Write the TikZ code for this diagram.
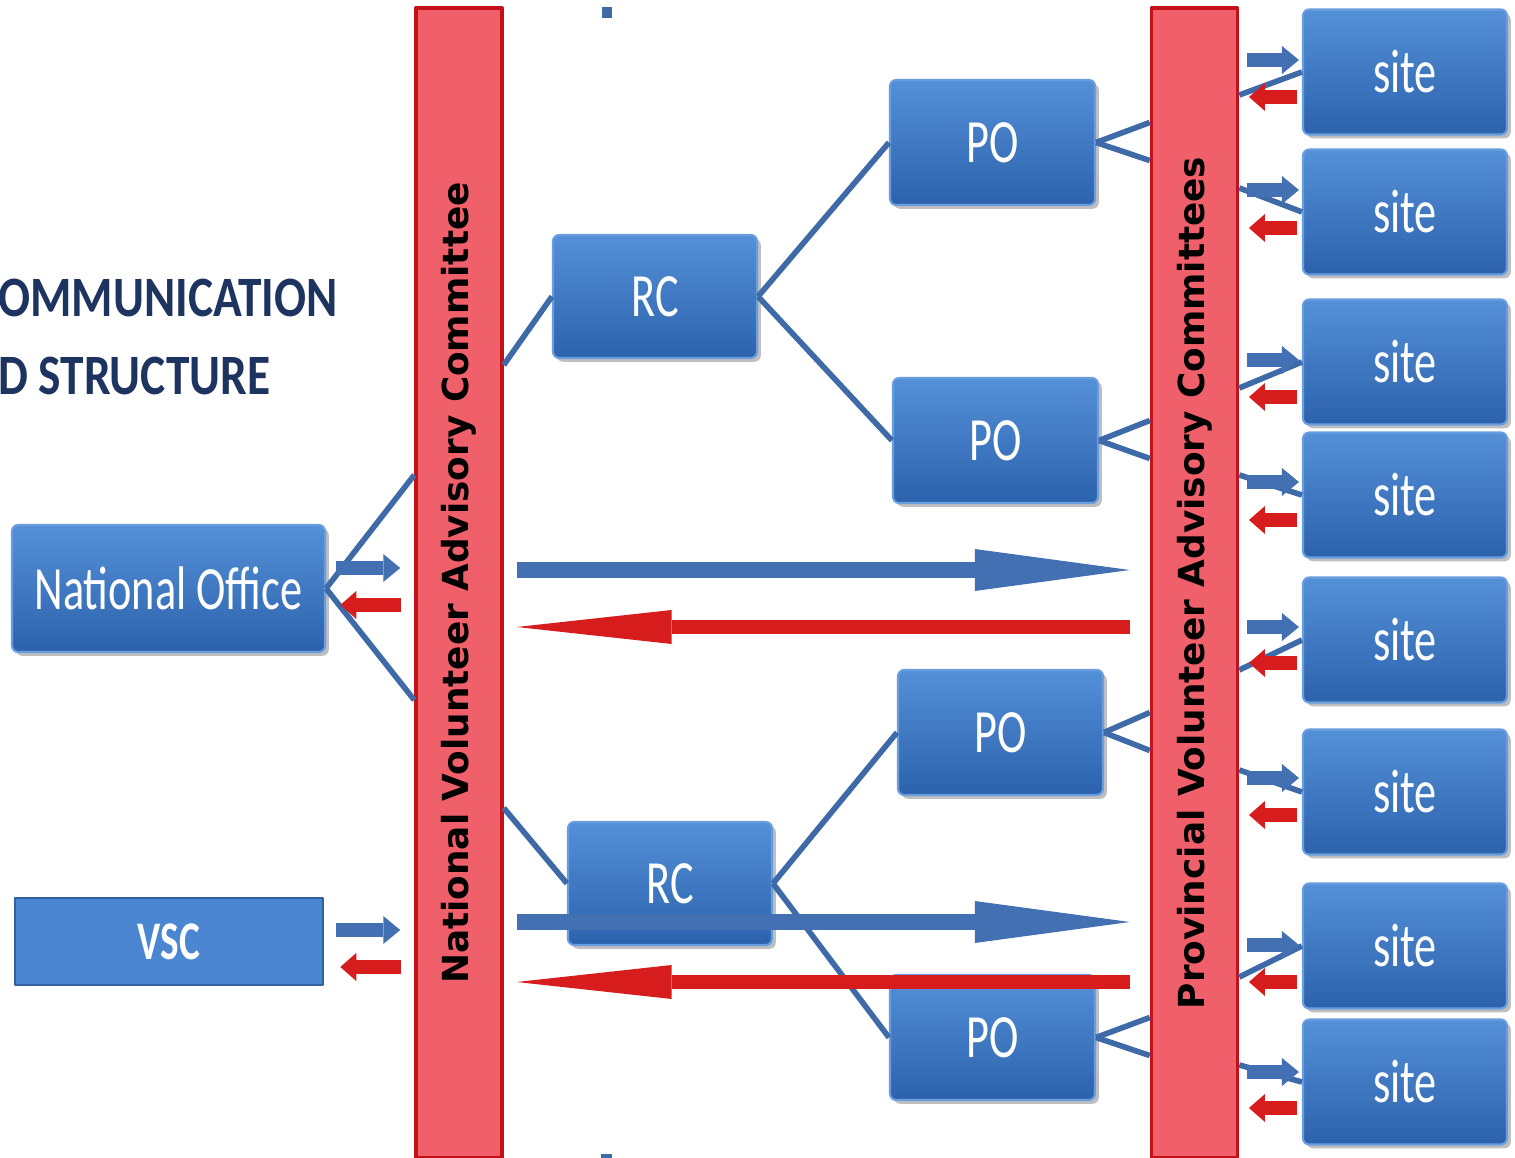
\documentclass[tikz,border=0pt]{standalone}
\usepackage{fontspec}
\usepackage{tikz}
\usetikzlibrary{arrows.meta,shadows,calc}
\newfontfamily\boxfont[FakeStretch=0.72]{Carlito}
\newfontfamily\titlefont[FakeStretch=0.83]{Carlito}
\newfontfamily\barfont{DejaVu Sans}
\definecolor{unittop}{RGB}{84,144,216}
\definecolor{unitbot}{RGB}{44,98,172}
\definecolor{unitedge}{RGB}{104,158,224}
\definecolor{vscblue}{RGB}{74,134,210}
\definecolor{vscedge}{RGB}{50,96,160}
\definecolor{linkblue}{RGB}{62,106,168}
\definecolor{barred}{RGB}{240,96,106}
\definecolor{barline}{RGB}{196,16,24}
\definecolor{arrowblue}{RGB}{66,112,178}
\definecolor{arrowred}{RGB}{214,28,28}
\definecolor{titlenavy}{RGB}{30,52,96}

\begin{document}
\begin{tikzpicture}[x=0.02cm,y=-0.02cm,line join=round]
  \tikzstyle{unit}=[draw=unitedge,line width=1.2pt,rounded corners=3.5pt,top color=unittop,bottom color=unitbot,drop shadow,text=white,font=\boxfont\fontsize{35}{40}\selectfont,inner sep=0pt,minimum width=4.1cm,minimum height=2.5cm]
  \tikzstyle{flat}=[draw=vscedge,line width=1pt,fill=vscblue,text=white,font=\boxfont\bfseries\fontsize{31}{36}\selectfont,inner sep=0pt,minimum width=6.16cm,minimum height=1.74cm]
  \tikzstyle{bar}=[draw=barline,line width=2pt,fill=barred,inner sep=0pt,minimum width=1.72cm,minimum height=23cm,font=\barfont\bfseries\fontsize{20.4}{24}\selectfont]
  \tikzstyle{title}=[text=titlenavy,font=\titlefont\bfseries\fontsize{32.5}{38}\selectfont,inner sep=0pt,anchor=base west]
  \tikzstyle{link}=[linkblue,line width=3.2pt]
  \tikzstyle{sendarrow}=[arrowblue,line width=7.5pt,-{Triangle[length=0.34cm,width=0.56cm,line width=0pt]}]
  \tikzstyle{backarrow}=[arrowred,line width=7.5pt,-{Triangle[length=0.32cm,width=0.56cm,line width=0pt]}]
  \tikzstyle{bigsend}=[arrowblue,line width=9pt,-{Triangle[length=3.1cm,width=0.84cm,line width=0pt]}]
  \tikzstyle{bigback}=[arrowred,line width=8.5pt,-{Triangle[length=3.1cm,width=0.68cm,line width=0pt]}]

  \fill[white] (0,0) rectangle (1515,1158);
  \useasboundingbox (0,0) rectangle (1515,1158);
  \clip (0,0) rectangle (1515,1158);

  \node[title] (T1) at (-2,317) {OMMUNICATION};
  \node[title] (T2) at (-2,395) {D STRUCTURE};
  \fill[linkblue] (602,7) rectangle (612,18);
  \fill[linkblue] (601,1154) rectangle (612,1160);

  \node[bar] (NV) at (459,583) {\rotatebox{90}{National Volunteer Advisory Committee}};
  \node[bar] (PV) at (1194.5,583) {\rotatebox{90}{Provincial Volunteer Advisory Committees}};

  \node[unit,minimum width=6.26cm,minimum height=2.54cm] (NO) at (168.5,588.5) {National Office};
  \node[flat] (VSC) at (169,941.5) {VSC};
  \node[unit,minimum width=4.08cm,minimum height=2.46cm] (R1) at (655,296.5) {RC};
  \node[unit,minimum width=4.08cm,minimum height=2.46cm] (R2) at (670,883.5) {RC};
  \node[unit] (P1) at (992.5,142.5) {PO};
  \node[unit] (P2) at (995.5,440.5) {PO};
  \node[unit] (P3) at (1000.5,732.5) {PO};
  \node[unit] (P4) at (992.5,1037.5) {PO};

  \path[link] (NO.east) edge (NV.west |- 0,475) edge (NV.west |- 0,700);
  \path[link] (NV.east |- 0,365) edge (R1.west);
  \path[link] (NV.east |- 0,808) edge (R2.west);
  \path[link] (R1.east) edge (P1.west) edge (P2.west);
  \path[link] (R2.east) edge (P3.west) edge (P4.west);
  \foreach \p in {P1,P2,P3,P4}
    \path[link] (\p.east) edge ($(PV.west |- \p.east)+(0,-20)$) edge ($(PV.west |- \p.east)+(0,18)$);

  % national office and vsc talk to the committee
  \draw[sendarrow] ($(NV.west |- 0,568)+(-78,0)$) -- ++(64,0);
  \draw[backarrow] ($(NV.west |- 0,605)+(-13,0)$) -- ++(-61,0);
  \draw[sendarrow] ($(NV.west |- 0,930)+(-78,0)$) -- ++(64,0);
  \draw[backarrow] ($(NV.west |- 0,967)+(-13,0)$) -- ++(-61,0);

  % sites
  \foreach \n/\yc/\yb/\yr/\yp in {1/72/60/97/95,2/212/190/228/188,3/362/360/397/388,4/495/482/520/475,5/640/627/663/670,6/792/778/815/770,7/946/945/982/977,8/1082/1072/1108/1065}{
    \node[unit,minimum width=4.08cm] (S\n) at (1405,\yc) {site};
    \path[link] (PV.east |- 0,\yp) edge (S\n.west);
    \draw[sendarrow] ($(S\n.west |- 0,\yb)+(-55,0)$) -- ++(52,0);
    \draw[backarrow] ($(S\n.west |- 0,\yr)+(-5,0)$) -- ++(-48,0);
  }

  \draw[bigsend] ($(NV.east |- 0,570)+(13,0)$) -- ($(PV.west |- 0,570)+(-20,0)$);
  \draw[bigback] ($(PV.west |- 0,627)+(-20,0)$) -- ($(NV.east |- 0,627)+(13,0)$);
  \draw[bigsend] ($(NV.east |- 0,922)+(13,0)$) -- ($(PV.west |- 0,922)+(-20,0)$);
  \draw[bigback] ($(PV.west |- 0,982)+(-20,0)$) -- ($(NV.east |- 0,982)+(13,0)$);
\end{tikzpicture}
\end{document}
